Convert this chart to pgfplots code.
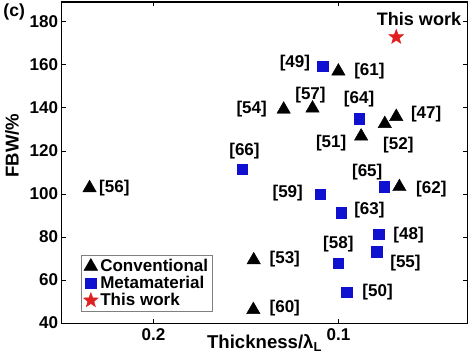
\documentclass[border=0pt]{standalone}
\usepackage{fontspec}
\setmainfont{Liberation Sans}
\usepackage{pgfplots}
\pgfplotsset{compat=1.18}
\definecolor{mblue}{RGB}{16,16,208}
\definecolor{mred}{RGB}{224,32,32}
\pgfdeclareplotmark{fstar}{%
  \pgfpathmoveto{\pgfpointpolar{90}{\pgfplotmarksize}}%
  \pgfpathlineto{\pgfpointpolar{126}{0.42\pgfplotmarksize}}%
  \pgfpathlineto{\pgfpointpolar{162}{\pgfplotmarksize}}%
  \pgfpathlineto{\pgfpointpolar{198}{0.42\pgfplotmarksize}}%
  \pgfpathlineto{\pgfpointpolar{234}{\pgfplotmarksize}}%
  \pgfpathlineto{\pgfpointpolar{270}{0.42\pgfplotmarksize}}%
  \pgfpathlineto{\pgfpointpolar{306}{\pgfplotmarksize}}%
  \pgfpathlineto{\pgfpointpolar{342}{0.42\pgfplotmarksize}}%
  \pgfpathlineto{\pgfpointpolar{18}{\pgfplotmarksize}}%
  \pgfpathlineto{\pgfpointpolar{54}{0.42\pgfplotmarksize}}%
  \pgfpathclose
  \pgfusepathqfillstroke}
\begin{document}
\begin{tikzpicture}
\begin{axis}[
  scale only axis, width=393pt, height=311pt,
  x dir=reverse,
  xmin=0.0302, xmax=0.2497, ymin=40, ymax=189.2,
  xtick={0.1,0.2}, ytick={40,60,...,180},
  xticklabels={0.1,0.2},
  /pgf/number format/assume math mode=true,
  tick label style={font=\bfseries\fontsize{16.5}{16.5}\selectfont},
  xticklabel style={yshift=-2pt},
  axis line style={line width=1.1pt},
  tick style={line width=0.8pt, black},
  major tick length=4pt,
  xlabel={Thickness/λ\textsubscript{L}},
  ylabel={FBW/\%},
  label style={font=\bfseries\fontsize{18}{18}\selectfont},
  xlabel style={at={(axis description cs:0.5,0)}, yshift=-8pt},
  ylabel style={at={(axis description cs:-0.122,0.553)}, anchor=center},
  legend style={at={(axis description cs:0.048,0.212)}, anchor=north west,
    draw=gray, line width=0.6pt, font=\bfseries\fontsize{16.5}{16.5}\selectfont,
    row sep=-1pt, inner sep=2pt},
  legend cell align=left,
  clip=false,
]
\addplot[only marks, mark=triangle*, mark size=7.5pt, black] coordinates {
(0.1,157) (0.114,139.8) (0.1296,139.3) (0.0687,135.9) (0.0749,132.6)
(0.0877,126.8) (0.067,103.3) (0.1458,69.3) (0.146,46.2) (0.2346,102.8)};
\addlegendentry{Conventional}
\addplot[only marks, mark=square*, mark size=5pt, mblue] coordinates {
(0.1084,159.4) (0.0888,135) (0.152,111.5) (0.0754,103.3) (0.110,100)
(0.0983,91.3) (0.0782,81.2) (0.0793,73.1) (0.1,67.8) (0.0955,54.4)};
\addlegendentry{Metamaterial}
\addplot[only marks, mark=fstar, mark size=7.5pt, mred, line width=0.4pt] coordinates {
(0.0687,172.9)};
\addlegendentry{This work}
\begin{scope}[every node/.style={font=\bfseries\fontsize{16.5}{16.5}\selectfont}]
\node at (axis cs:0.0564,181.5) {\fontsize{17.5}{17.5}\selectfont This work};
\node at (axis cs:0.1235,160.9) {[49]};
\node at (axis cs:0.0832,157.0) {[61]};
\node at (axis cs:0.1151,146.0) {[57]};
\node at (axis cs:0.1469,139.3) {[54]};
\node at (axis cs:0.0888,144.1) {[64]};
\node at (axis cs:0.0525,136.9) {[47]};
\node at (axis cs:0.0676,122.5) {[52]};
\node at (axis cs:0.1039,123.5) {[51]};
\node at (axis cs:0.1508,120.1) {[66]};
\node at (axis cs:0.0844,110.0) {[65]};
\node at (axis cs:0.0497,102.3) {[62]};
\node at (axis cs:0.1274,100.4) {[59]};
\node at (axis cs:0.0832,92.3) {[63]};
\node at (axis cs:0.062,80.8) {[48]};
\node at (axis cs:0.0637,67.8) {[55]};
\node at (axis cs:0.1,76.9) {[58]};
\node at (axis cs:0.0788,54.4) {[50]};
\node at (axis cs:0.129,69.7) {[53]};
\node at (axis cs:0.129,47.2) {[60]};
\node at (axis cs:0.2212,102.8) {[56]};
\end{scope}
\node[font=\bfseries\fontsize{17}{17}\selectfont] at (axis description cs:-0.117,0.97) {(c)};
\end{axis}
\end{tikzpicture}
\end{document}
